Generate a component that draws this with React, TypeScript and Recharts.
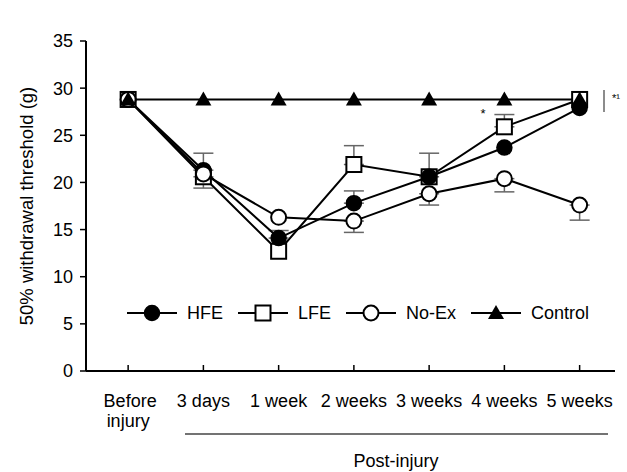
import {
  LineChart,
  Line,
  XAxis,
  YAxis,
  ErrorBar,
  Legend,
  Customized,
} from "recharts";

const categories = [
  "Before injury",
  "3 days",
  "1 week",
  "2 weeks",
  "3 weeks",
  "4 weeks",
  "5 weeks",
];
const hfe = [28.8, 21.3, 14.1, 17.8, 20.6, 23.7, 27.9];
const lfe = [28.8, 20.6, 12.7, 21.9, 20.6, 25.9, 28.8];
const noEx = [28.8, 20.9, 16.3, 15.9, 18.8, 20.4, 17.6];
const control = [28.8, 28.8, 28.8, 28.8, 28.8, 28.8, 28.8];

// [below, above]; null where no bar is visible
type Err = [number, number] | null;
const hfeErr: Err[] = [null, [0, 1.8], [0, 0.8], [0, 1.3], null, null, null];
const lfeErr: Err[] = [null, [1.2, 0], null, [0, 2.0], [0, 2.5], [0, 1.3], null];
const noExErr: Err[] = [null, null, null, [1.2, 0], [1.2, 0], [1.4, 0], [1.6, 0]];

const yTicks = [0, 5, 10, 15, 20, 25, 30, 35];
const xTicks = [0, 1, 2, 3, 4, 5, 6];

const data = categories.map((c, i) => ({
  x: i,
  label: c,
  hfe: hfe[i],
  lfe: lfe[i],
  noEx: noEx[i],
  control: control[i],
  hfeErr: hfeErr[i],
  lfeErr: lfeErr[i],
  noExErr: noExErr[i],
}));

const FONT = "'Liberation Sans', Arial, sans-serif";

type Shape = "filledCircle" | "square" | "openCircle" | "triangle";

function Marker({ cx, cy, shape }: { cx: number; cy: number; shape: Shape }) {
  if (cx == null || cy == null) return null;
  if (shape === "filledCircle")
    return <circle cx={cx} cy={cy} r={7.5} fill="#000" stroke="#000" strokeWidth={1.5} />;
  if (shape === "openCircle")
    return <circle cx={cx} cy={cy} r={7.5} fill="#fff" stroke="#000" strokeWidth={2} />;
  if (shape === "square")
    return <rect x={cx - 7.5} y={cy - 7.5} width={15} height={15} fill="#fff" stroke="#000" strokeWidth={2} />;
  return (
    <polygon
      points={`${cx},${cy - 8} ${cx + 8},${cy + 6} ${cx - 8},${cy + 6}`}
      fill="#000"
    />
  );
}

const seriesMeta: { key: string; name: string; shape: Shape }[] = [
  { key: "hfe", name: "HFE", shape: "filledCircle" },
  { key: "lfe", name: "LFE", shape: "square" },
  { key: "noEx", name: "No-Ex", shape: "openCircle" },
  { key: "control", name: "Control", shape: "triangle" },
];

function LegendBox() {
  return (
    <div style={{ display: "flex", alignItems: "center", fontFamily: FONT, fontSize: 18, color: "#000" }}>
      {seriesMeta.map((s) => (
        <div key={s.key} style={{ display: "flex", alignItems: "center", marginRight: 15 }}>
          <svg width={50} height={20}>
            <line x1={0} y1={10} x2={50} y2={10} stroke="#000" strokeWidth={2} />
            <Marker cx={25} cy={10} shape={s.shape} />
          </svg>
          <span style={{ marginLeft: 10, lineHeight: "20px" }}>{s.name}</span>
        </div>
      ))}
    </div>
  );
}

function XTick({ x, y, payload }: any) {
  const lines = categories[payload.value].split(" ");
  const twoLine = lines.length > 1 && payload.value === 0;
  return (
    <g>
      <line x1={x} y1={y} x2={x} y2={y - 6} stroke="#000" strokeWidth={1.5} />
      <text x={x} y={y + 36} textAnchor="middle" fontFamily={FONT} fontSize={18} fill="#000">
        {twoLine ? (
          <>
            <tspan x={x + 2}>{lines[0]}</tspan>
            <tspan x={x} dy={20}>{lines[1]}</tspan>
          </>
        ) : (
          categories[payload.value]
        )}
      </text>
    </g>
  );
}

function Annotations() {
  return (
    <g fontFamily={FONT} fill="#000">
      <text x={483} y={118} fontSize={13} textAnchor="middle">*</text>
      <line x1={604} y1={90} x2={604} y2={112} stroke="#666" strokeWidth={1.5} />
      <text x={612} y={102} fontSize={11}>*¹</text>
      <line x1={185} y1={434} x2={608} y2={434} stroke="#444" strokeWidth={1.5} />
      <text x={396} y={467} fontSize={18} textAnchor="middle">Post-injury</text>
    </g>
  );
}

export default function App() {
  // draw order: LFE, HFE, No-Ex, Control
  const order = ["lfe", "hfe", "noEx", "control"];
  const errKey: Record<string, string> = { hfe: "hfeErr", lfe: "lfeErr", noEx: "noExErr" };
  return (
    <div style={{ position: "absolute", left: 0, top: 0, background: "#fff" }}>
      <LineChart
        width={627}
        height={472}
        data={data}
        margin={{ top: 21, right: 12, bottom: 0, left: 0 }}
      >
        <XAxis
          dataKey="x"
          type="number"
          domain={[-0.56, 6.47]}
          ticks={xTicks}
          allowDataOverflow
          height={101}
          tickSize={0}
          tickMargin={0}
          tickLine={false}
          axisLine={{ stroke: "#000", strokeWidth: 2 }}
          tick={<XTick />}
          interval={0}
        />
        <YAxis
          type="number"
          domain={[0, 35]}
          ticks={yTicks}
          width={86}
          tickSize={6}
          tickMargin={7}
          axisLine={{ stroke: "#000", strokeWidth: 2 }}
          tickLine={{ stroke: "#000", strokeWidth: 1.5 }}
          tick={{ fill: "#000", fontSize: 18, fontFamily: FONT }}
          label={{
            value: "50% withdrawal threshold (g)",
            angle: -90,
            position: "insideLeft",
            offset: 0,
            dx: 26,
            style: { fill: "#000", fontSize: 18.5, fontFamily: FONT, textAnchor: "middle" },
          }}
        />
        {order.map((k) => {
          const meta = seriesMeta.find((s) => s.key === k)!;
          return (
            <Line
              key={k}
              dataKey={k}
              name={meta.name}
              stroke="#000"
              strokeWidth={2}
              isAnimationActive={false}
              legendType="none"
              dot={(p: any) => <Marker key={`${k}-${p.index}`} cx={p.cx} cy={p.cy} shape={meta.shape} />}
              activeDot={false}
            >
              {errKey[k] && (
                <ErrorBar dataKey={errKey[k]} width={10} stroke="#666" strokeWidth={1.5} direction="y" />
              )}
            </Line>
          );
        })}
        <Legend
          content={() => <LegendBox />}
          verticalAlign="top"
          wrapperStyle={{ position: "absolute", top: 303, left: 127, width: "auto" }}
        />
        <Customized component={Annotations} />
      </LineChart>
    </div>
  );
}
